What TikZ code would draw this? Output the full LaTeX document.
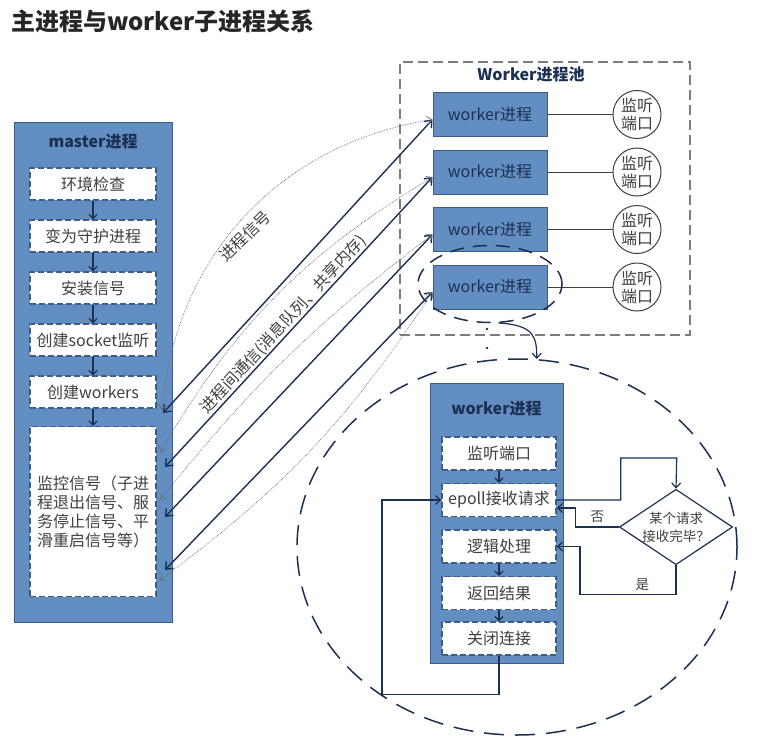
\documentclass[tikz,border=0pt]{standalone}
\usepackage{fontspec}
\setmainfont{Noto Sans CJK SC}
\usetikzlibrary{positioning, shapes.geometric, arrows.meta}
\definecolor{procblue}{RGB}{98,142,194}
\definecolor{procedge}{RGB}{60,92,135}
\definecolor{stepedge}{RGB}{62,92,132}
\definecolor{boxtext}{RGB}{64,64,64}
\definecolor{navy}{RGB}{28,48,82}
\definecolor{poolgray}{RGB}{125,125,125}
\definecolor{sigcol}{RGB}{105,110,120}

\begin{document}
\begin{tikzpicture}[x=1pt, y=-1pt, node distance=18.5pt,
    procbox/.style={draw=procedge, fill=procblue, line width=1pt},
    stepbox/.style={draw=stepedge, fill=white, dash pattern=on 6pt off 3pt, line width=1.5pt,
        minimum width=126pt, minimum height=32pt, inner sep=2pt, text=boxtext,
        font=\fontsize{16}{19}\selectfont},
    wstep/.style={stepbox, minimum width=114pt, minimum height=33pt},
    wbox/.style={procbox, minimum width=114pt, minimum height=44pt, text=navy,
        font=\fontsize{16}{19}\selectfont},
    headtext/.style={text=navy, font=\fontsize{16}{19}\selectfont\bfseries},
    port/.style={circle, draw=boxtext, fill=white, line width=1pt, minimum size=48pt,
        inner sep=0pt, align=center, text=boxtext, font=\fontsize{16}{18}\selectfont},
    pool/.style={draw=poolgray, dash pattern=on 10pt off 5pt, line width=1.2pt},
    zoomring/.style={ellipse, draw=navy, dash pattern=on 14pt off 9pt, line width=1.5pt},
    link/.style={draw=navy, line width=1.4pt, {Straight Barb[length=6pt,width=10pt]}-{Straight Barb[length=6pt,width=10pt]}},
    sig/.style={draw=sigcol, densely dotted, line width=0.7pt, {Straight Barb[length=5pt,width=8pt]}-{Straight Barb[length=5pt,width=8pt]}},
    stepflow/.style={draw=navy, line width=1.2pt, -{Straight Barb[length=4pt,width=8pt]}},
    flow/.style={draw=navy, line width=1.2pt, -{Straight Barb[length=5pt,width=9pt]}},
    plain/.style={draw=boxtext, line width=1pt},
    labeltext/.style={text=boxtext, font=\fontsize{16}{19}\selectfont},
    smalltext/.style={text=boxtext, font=\fontsize{13.5}{18}\selectfont}]
    \useasboundingbox (0,0) rectangle (765,742);

    \node[anchor=west, inner sep=0pt, text=black!85, font=\fontsize{24}{28}\selectfont\bfseries] (title) at (11,21) {主进程与worker子进程关系};

    % master
    \node[procbox, minimum width=158pt, minimum height=500pt] (master) at (93,372) {};
    \node[headtext] (mhead) at (93,142) {master进程};
    \node[stepbox] (env) at (93,184) {环境检查};
    \node[stepbox] (daemon) [below=of env] {变为守护进程};
    \node[stepbox] (signal) [below=of daemon] {安装信号};
    \node[stepbox] (listen) [below=of signal] {创建socket监听};
    \node[stepbox] (spawn) [below=of listen] {创建workers};
    \node[stepbox, minimum height=170pt, align=left] (monitor) [below=17pt of spawn] {监控信号（子进\\程退出信号、服\\务停止信号、平\\滑重启信号等）};
    \foreach \a/\b in {env/daemon, daemon/signal, signal/listen, listen/spawn, spawn/monitor}
        \draw[stepflow] (\a) -- (\b);

    % worker pool
    \node[pool, minimum width=290pt, minimum height=273pt] (pool) at (545,198.5) {};
    \node[headtext] (phead) at (531,75) {Worker进程池};
    \node[wbox] (w1) at (490,114.5) {worker进程};
    \node[wbox] (w2) [below=12.5pt of w1] {worker进程};
    \node[wbox] (w3) [below=12.5pt of w2] {worker进程};
    \node[wbox] (w4) [below=12.5pt of w3] {worker进程};
    \foreach \i in {1,...,4} {
        \node[port] (p\i) [right=65pt of w\i] {监听\\端口};
        \draw[plain] (w\i) -- (p\i);
    }
    \node[zoomring, minimum width=144pt, minimum height=77pt] (focus) at (490,284) {};
    \fill[navy] (487,329) circle[radius=1.3pt] (487,348) circle[radius=1.3pt];

    % master <-> workers
    \coordinate (s1) at (163,413);
    \coordinate (s2) at (165,467);
    \coordinate (s3) at (165,517);
    \coordinate (s4) at (165,570);
    \coordinate (d1) at (162,410);
    \coordinate (d2) at (160,452);
    \coordinate (d3) at (160,500);
    \coordinate (d4) at (160,580);
    \foreach \i in {1,...,4}
        \draw[link] (s\i) -- ([yshift=-5pt]w\i.west);
    \path (s2) -- ([yshift=-5pt]w2.west) node[pos=0.47, above, sloped, inner sep=1pt, labeltext] (ipc) {进程间通信(消息队列、共享内存)};
    \draw[sig] (d1) to[bend left=38] ([yshift=-5pt]w1.west);
    \draw[sig] (d2) to[bend left=14] ([yshift=-5pt]w2.west);
    \draw[sig] (d3) to[bend left=7] ([yshift=-5pt]w3.west);
    \draw[sig] (d4) to[bend right=10] ([yshift=-5pt]w4.west);
    \node[labeltext, rotate=44] (sigtext) at (245,236) {进程信号};

    % worker detail
    \node[zoomring, dash pattern=on 20pt off 11pt, minimum width=440pt, minimum height=376pt] (ring) at (517,547) {};
    \draw[flow] (focus.-78) .. controls +(36,2) and +(0,-22) .. (ring.84);
    \node[procbox, minimum width=133pt, minimum height=280pt] (wk) at (496.5,523) {};
    \node[headtext] (whead) at (496.5,409) {worker进程};
    \node[wstep] (wlisten) at (499,453.5) {监听端口};
    \node[wstep] (epoll) [below=12pt of wlisten] {epoll接收请求};
    \node[wstep] (logic) [below=12pt of epoll] {逻辑处理};
    \node[wstep] (reply) [below=12pt of logic] {返回结果};
    \node[wstep] (close) [below=11pt of reply] {关闭连接};
    \foreach \a/\b in {wlisten/epoll, logic/reply, reply/close}
        \draw[stepflow] (\a) -- (\b);
    \node[diamond, draw=navy, line width=1.2pt, fill=white, inner sep=0pt, shape aspect=1.5,
        minimum width=105pt, minimum height=71pt, align=center, smalltext] (ask) at (676,527) {某个请求\\接收完毕？};
    \draw[flow] (epoll.east) -- ++(64,0) |- ++(56,-42) -- (ask.north);
    \draw[flow] (ask.west) -- ++(-43,0) node[midway, above, smalltext] (no) {否} |- ([yshift=-8pt]epoll.east);
    \draw[flow] (ask.south) -- ++(0,29) -- ++(-96,0) node[pos=0.35, above, smalltext] (yes) {是} |- (logic.east);
    \draw[flow] (close.south) -- ++(0,39) -- ++(-117,0) |- (epoll.west);
\end{tikzpicture}
\end{document}
